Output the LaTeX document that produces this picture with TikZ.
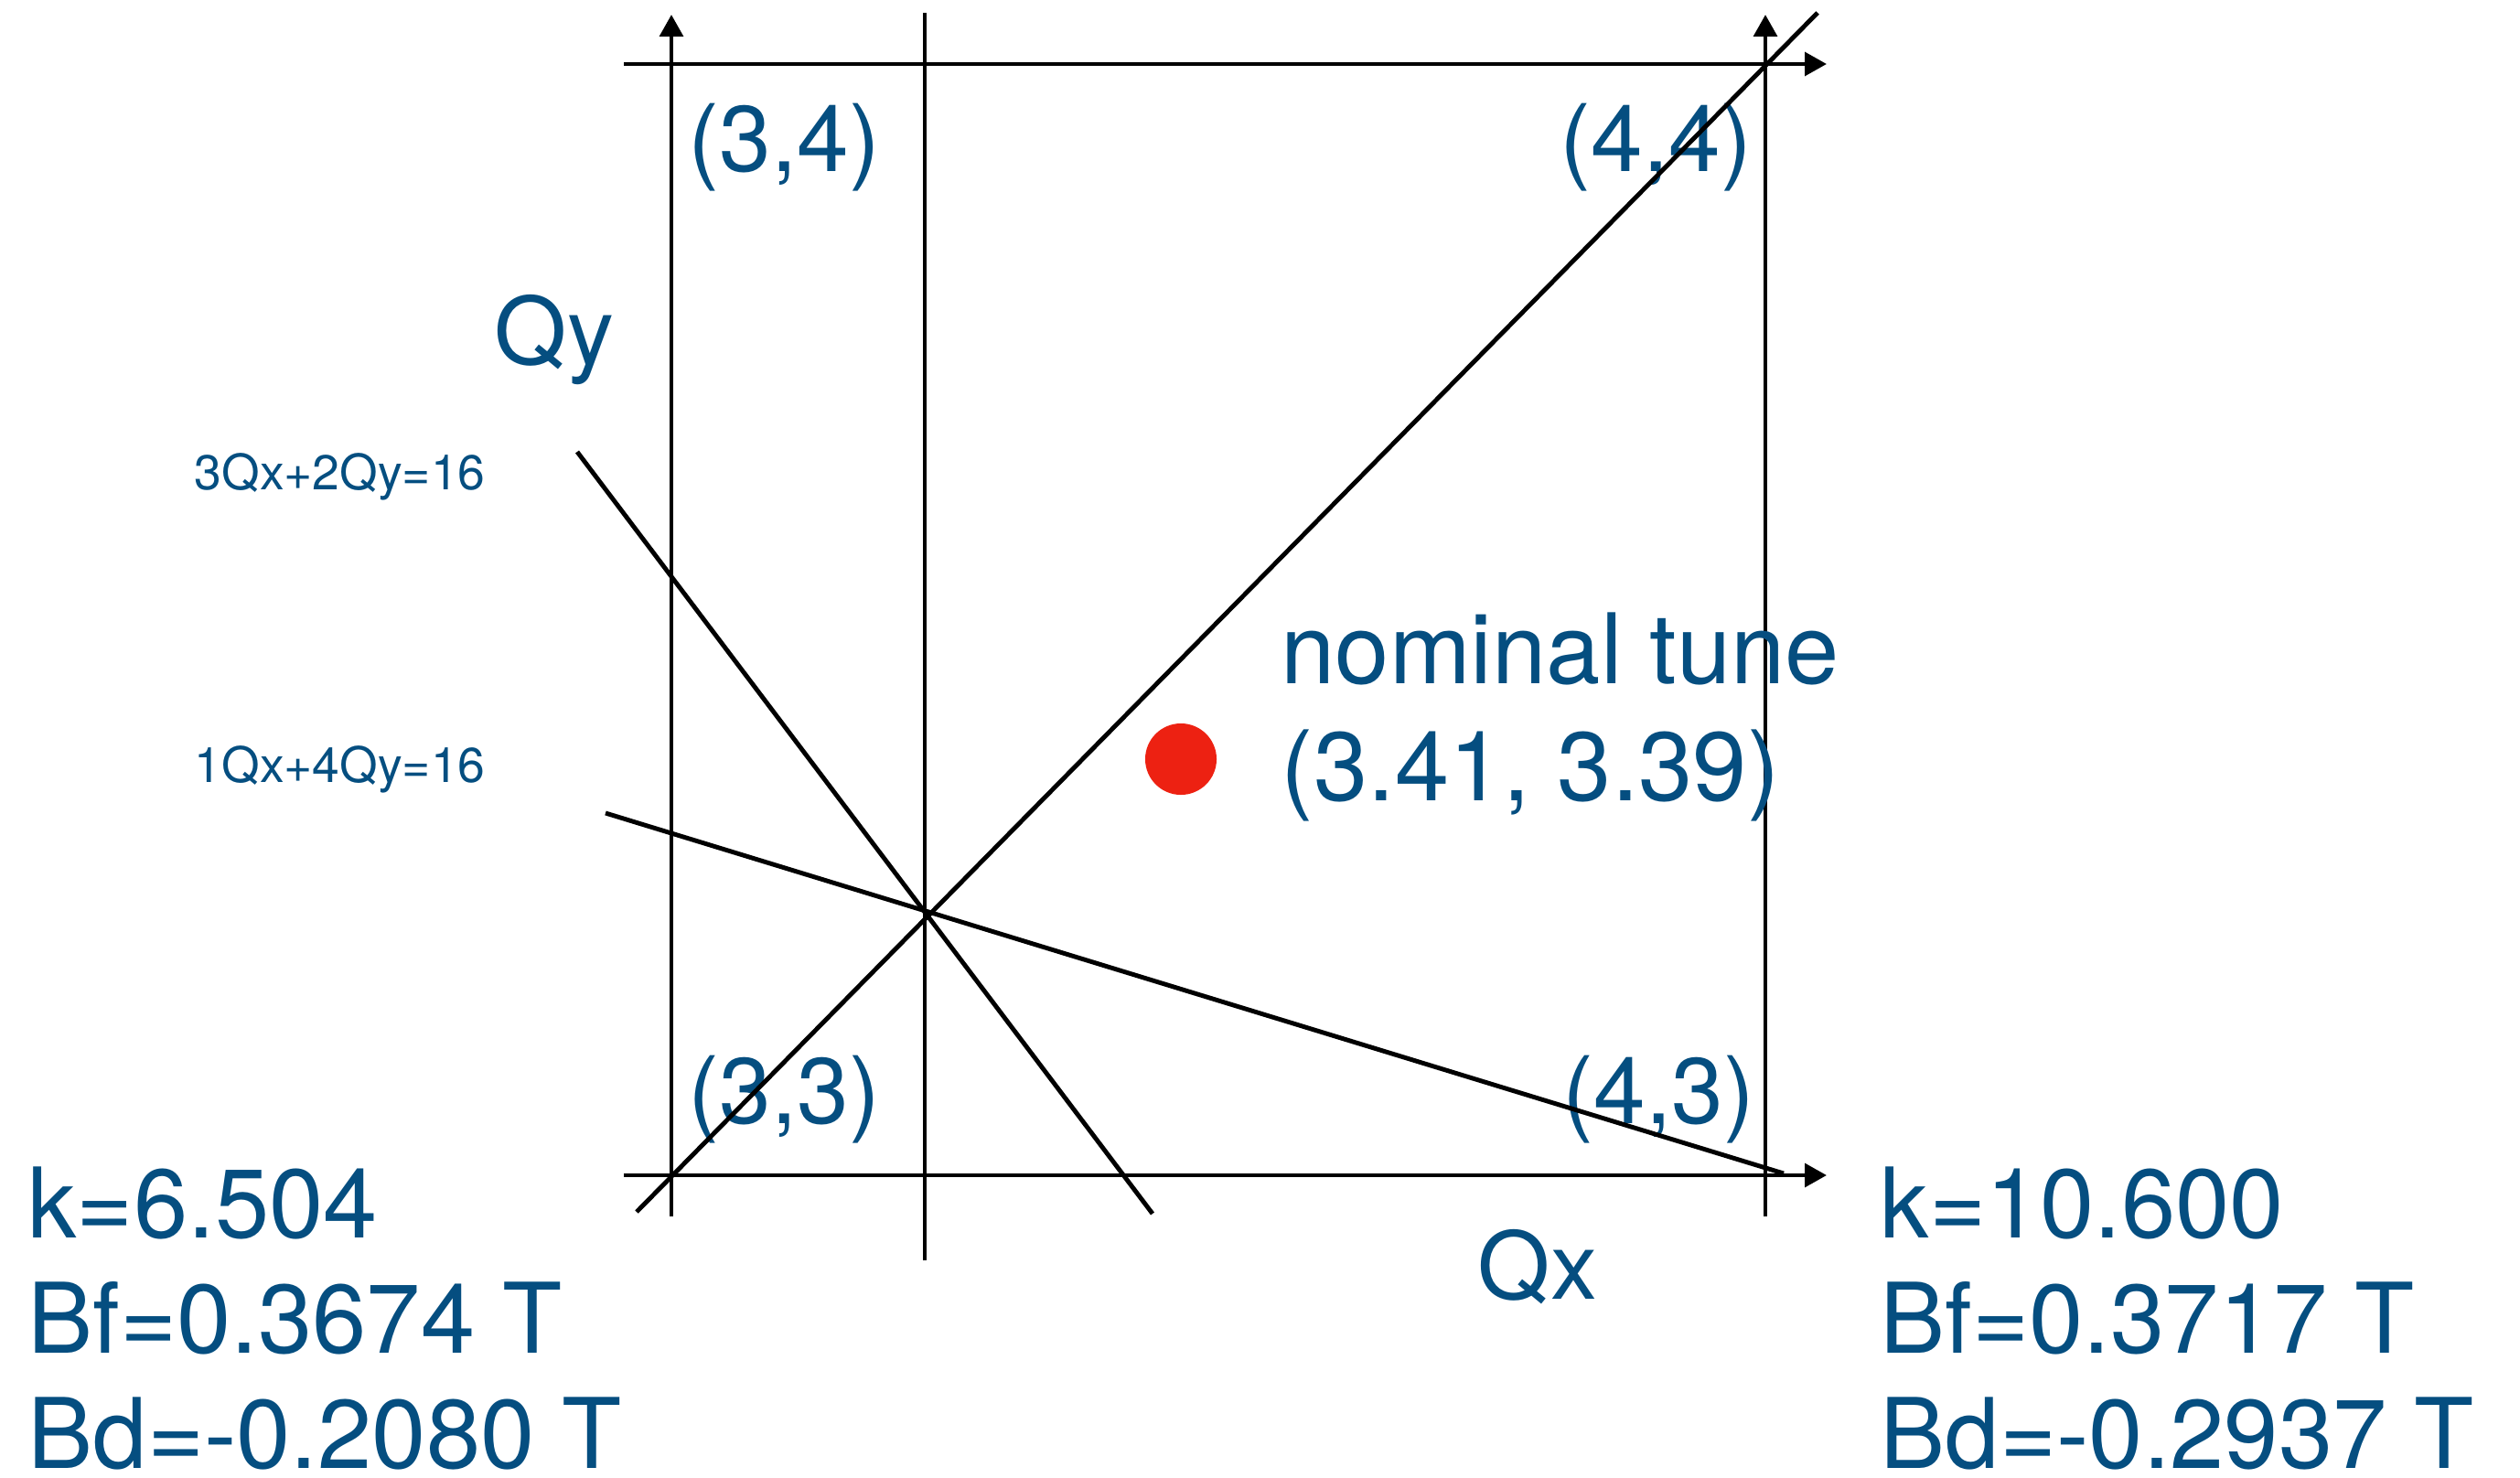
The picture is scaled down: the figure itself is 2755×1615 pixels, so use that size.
\documentclass[tikz,border=0pt]{standalone}
\usepackage{fontspec}
\setmainfont{TeX Gyre Heros}
\usetikzlibrary{positioning,arrows.meta}
\definecolor{tuneblue}{RGB}{5,78,128}
\definecolor{tunered}{RGB}{237,33,18}

\begin{document}
\begin{tikzpicture}[
  x=0.01cm, y=-0.01cm,
  gridline/.style={line width=1.4pt},
  axis/.style={gridline,-{Triangle[length=6.8pt,width=7.2pt]}},
  lbl/.style={text=tuneblue,inner sep=0pt,anchor=base west,font=\fontsize{29}{36}\selectfont},
  vallbl/.style={lbl,font=\fontsize{30.3}{36}\selectfont},
  reslbl/.style={lbl,font=\fontsize{15.2}{18}\selectfont},
  tunedot/.style={circle,fill=tunered,inner sep=0pt,minimum size=0.78cm}
]
\useasboundingbox (0,0) rectangle (2755,1615);
% end points of the tune lines
\coordinate (t0) at (682,70);    \coordinate (t1) at (1997,70);
\coordinate (b0) at (682,1285);  \coordinate (b1) at (1997,1285);
\coordinate (l0) at (734,1330);  \coordinate (l1) at (734,16);
\coordinate (r0) at (1930,1330); \coordinate (r1) at (1930,16);
\coordinate (m0) at (1011,1378); \coordinate (m1) at (1011,14);
\coordinate (d0) at (696,1325);  \coordinate (d1) at (1987,14);
\coordinate (a0) at (631,494);   \coordinate (a1) at (1260,1327);
\coordinate (e0) at (662,889);   \coordinate (e1) at (1950,1283);
% labels
\node[lbl] (c34) at (752,187) {(3,4)};
\node[lbl] (c44) at (1705,187) {(4,4)};
\node[lbl] (c33) at (752,1228) {(3,3)};
\node[lbl] (c43) at (1708,1228) {(4,3)};
\node[lbl] (qy) at (540,398) {Qy};
\node[lbl] (qx) at (1615,1420) {Qx};
\node[reslbl] (res3) at (212,535) {3Qx+2Qy=16};
\node[reslbl] (res1) at (212,855) {1Qx+4Qy=16};
% working points
\node[vallbl] (k1) at (30,1353) {k=6.504};
\node[vallbl,below=1.26cm of k1.base west,anchor=base west] (bf1) {Bf=0.3674 T};
\node[vallbl,below=1.26cm of bf1.base west,anchor=base west] (bd1) {Bd=-0.2080 T};
\node[vallbl] (k2) at (2055,1353) {k=10.600};
\node[vallbl,below=1.26cm of k2.base west,anchor=base west] (bf2) {Bf=0.3717 T};
\node[vallbl,below=1.26cm of bf2.base west,anchor=base west] (bd2) {Bd=-0.2937 T};
% axes
\draw[axis] (t0) -- (t1);
\draw[axis] (b0) -- (b1);
\draw[axis] (l0) -- (l1);
\draw[axis] (r0) -- (r1);
% resonance lines
\draw[gridline] (m0) -- (m1);
\draw[gridline] (d0) -- (d1);
\draw[gridline] (a0) -- (a1);
\draw[gridline] (e0) -- (e1);
% nominal tune
\node[tunedot] (nom) at (1291,830) {};
\node[vallbl] (nt) at (1400,747) {nominal tune};
\node[vallbl,below=1.28cm of nt.base west,anchor=base west] (ntv) {(3.41, 3.39)};
\end{tikzpicture}
\end{document}
